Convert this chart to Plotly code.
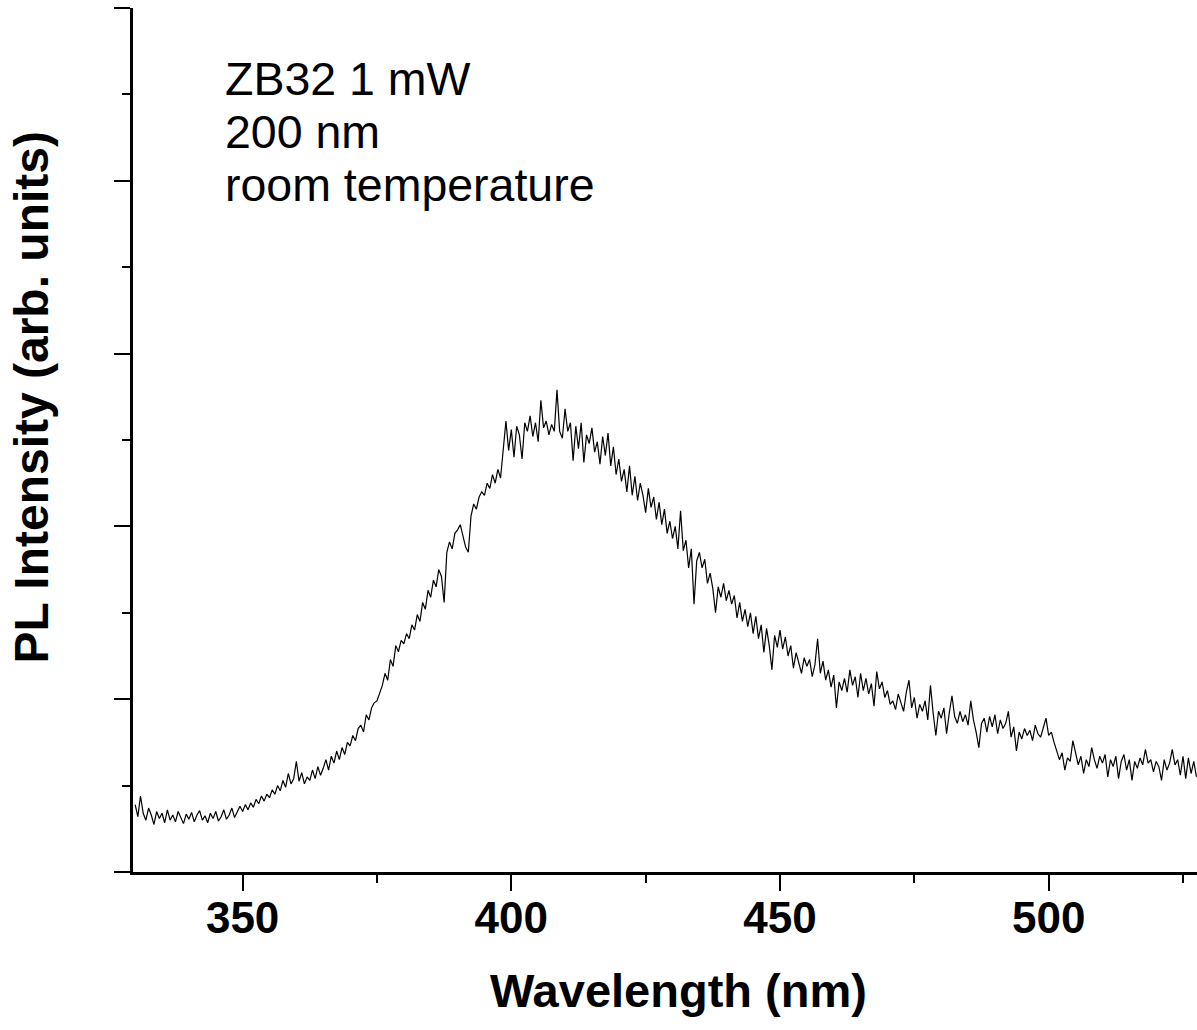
import numpy as np
import plotly.graph_objects as go

# ---------------- data ----------------
wavelength_start = 330.0   # nm, first sample
wavelength_step = 0.5      # nm, detector sampling step

intensity_330_380 = [
    0.78, 0.64, 0.88, 0.68, 0.60, 0.74, 0.66, 0.55, 0.70, 0.62,
    0.68, 0.57, 0.72, 0.60, 0.66, 0.58, 0.70, 0.63, 0.56, 0.67,
    0.61, 0.69, 0.58, 0.66, 0.71, 0.60, 0.65, 0.57, 0.68, 0.62,
    0.70, 0.59, 0.64, 0.72, 0.61, 0.66, 0.74, 0.63, 0.69, 0.76,
    0.70, 0.78, 0.72, 0.80, 0.75, 0.84, 0.79, 0.88, 0.82, 0.90,
    0.86, 0.95, 0.90, 1.00, 0.94, 1.06, 0.98, 1.14, 1.02, 1.08,
    1.28, 1.05, 1.15, 1.02, 1.10, 1.06, 1.18, 1.08, 1.22, 1.12,
    1.20, 1.30, 1.18, 1.34, 1.26, 1.40, 1.30, 1.44, 1.36, 1.50,
    1.46, 1.58, 1.52, 1.66, 1.70, 1.62, 1.82, 1.76, 1.90, 1.96,
    1.98, 2.08, 2.16, 2.30, 2.22, 2.46, 2.38, 2.62, 2.55, 2.68,
]
intensity_380_430 = [
    2.64, 2.76, 2.70, 2.86, 2.80, 2.98, 2.90, 3.12, 3.04, 3.26,
    3.18, 3.38, 3.30, 3.50, 3.42, 3.12, 3.70, 3.82, 3.74, 3.92,
    3.96, 4.02, 3.90, 3.76, 3.70, 4.12, 4.26, 4.20, 4.34, 4.40,
    4.36, 4.50, 4.44, 4.60, 4.50, 4.66, 4.56, 4.90, 5.22, 4.88,
    5.12, 4.80, 5.16, 5.06, 4.78, 5.20, 5.10, 5.28, 5.04, 5.20,
    4.98, 5.46, 5.14, 5.22, 5.06, 5.18, 5.10, 5.58, 5.10, 5.02,
    5.36, 5.10, 5.20, 4.76, 5.16, 4.90, 5.20, 4.74, 5.06, 4.96,
    5.14, 4.86, 4.98, 4.72, 5.04, 4.82, 5.08, 4.70, 4.92, 4.60,
    4.78, 4.52, 4.66, 4.40, 4.70, 4.36, 4.58, 4.30, 4.50, 4.36,
    4.16, 4.44, 4.22, 4.34, 4.08, 4.28, 4.02, 4.20, 3.92, 4.06,
]
intensity_430_480 = [
    3.86, 4.00, 3.74, 4.18, 3.72, 3.84, 3.52, 3.74, 3.10, 3.60,
    3.70, 3.52, 3.62, 3.34, 3.46, 3.28, 3.00, 3.30, 3.18, 3.34,
    3.14, 3.26, 3.10, 3.20, 2.94, 3.12, 2.90, 3.04, 2.84, 3.00,
    2.76, 2.96, 2.70, 2.86, 2.54, 2.82, 2.62, 2.34, 2.74, 2.60,
    2.80, 2.58, 2.72, 2.50, 2.62, 2.36, 2.54, 2.42, 2.30, 2.48,
    2.38, 2.46, 2.26, 2.40, 2.70, 2.30, 2.44, 2.22, 2.34, 2.14,
    2.28, 1.90, 2.20, 2.10, 2.24, 2.08, 2.34, 2.16, 2.26, 2.02,
    2.30, 2.10, 2.24, 2.06, 2.18, 1.92, 2.32, 2.12, 2.20, 2.02,
    2.10, 1.94, 1.98, 1.88, 2.06, 1.96, 1.86, 2.08, 2.22, 1.90,
    2.02, 1.78, 1.94, 1.86, 1.98, 1.76, 2.16, 1.84, 1.58, 1.86,
]
intensity_480_528 = [
    1.78, 1.90, 1.60, 1.84, 2.04, 1.80, 1.72, 1.86, 1.74, 1.82,
    1.70, 1.98, 1.76, 1.62, 1.44, 1.72, 1.78, 1.62, 1.80, 1.68,
    1.82, 1.60, 1.76, 1.66, 1.72, 1.86, 1.56, 1.68, 1.40, 1.62,
    1.54, 1.66, 1.58, 1.64, 1.52, 1.70, 1.60, 1.56, 1.66, 1.78,
    1.58, 1.62, 1.50, 1.40, 1.30, 1.38, 1.18, 1.32, 1.28, 1.52,
    1.36, 1.24, 1.34, 1.14, 1.30, 1.22, 1.44, 1.30, 1.20, 1.34,
    1.26, 1.36, 1.10, 1.30, 1.22, 1.34, 1.08, 1.28, 1.36, 1.18,
    1.30, 1.06, 1.28, 1.20, 1.32, 1.24, 1.42, 1.26, 1.30, 1.16,
    1.28, 1.22, 1.06, 1.30, 1.18, 1.26, 1.42, 1.24, 1.30, 1.12,
    1.34, 1.08, 1.32, 1.14, 1.28, 1.10,
]

intensity = intensity_330_380 + intensity_380_430 + intensity_430_480 + intensity_480_528
wavelength = wavelength_start + wavelength_step * np.arange(len(intensity))

x_tick_values = [350, 400, 450, 500]
x_tick_labels = ["350", "400", "450", "500"]
annotation_lines = ["ZB32 1 mW", "200 nm", "room temperature"]
x_title = "Wavelength (nm)"
y_title = "PL Intensity (arb. units)"

# ---------------- layout geometry (pixels) ----------------
W, H = 1197, 1030
ML, MR, MT, MB = 133, 0, 8, 158
PW = W - ML - MR
PH = H - MT - MB


def px_x(px):
    return (px - ML) / PW


def px_y(py):
    return (H - MB - py) / PH


FONT = "Liberation Sans, Arial, sans-serif"

fig = go.Figure()
fig.add_trace(go.Scatter(
    x=wavelength, y=intensity, mode="lines",
    line=dict(color="black", width=1.2),
    hoverinfo="skip", showlegend=False,
))

axis_common = dict(
    showline=True, linecolor="black", linewidth=2.6,
    ticks="outside", ticklen=16, tickwidth=2.4, tickcolor="black",
    showgrid=False, zeroline=False, mirror=False,
)

fig.update_xaxes(
    range=[329.6, 527.6],
    tickmode="array", tickvals=x_tick_values, ticktext=x_tick_labels,
    tickfont=dict(family=FONT, size=44, color="black", weight="bold"),
    minor=dict(dtick=25, tick0=0, ticks="outside", ticklen=8,
               tickwidth=2.4, tickcolor="black", showgrid=False),
    ticklabelstandoff=-11,
    **axis_common,
)
fig.update_yaxes(
    range=[0, 10], dtick=2, tick0=0, showticklabels=False,
    minor=dict(dtick=1, tick0=0, ticks="outside", ticklen=8,
               tickwidth=2.4, tickcolor="black", showgrid=False),
    **axis_common,
)

# one block of text; the base font sets the line pitch (1.3 em),
# the spans set the glyph size
LINE_PITCH = 53
GLYPH_SIZE = 46.5
block = "<br>".join(
    f"<span style='font-size:{GLYPH_SIZE}px'>{t}</span>" for t in annotation_lines
)
annotations = [dict(
    text=block, xref="paper", yref="paper", align="left",
    x=px_x(223), y=px_y(51), xanchor="left", yanchor="top",
    showarrow=False,
    font=dict(family=FONT, size=LINE_PITCH / 1.3, color="black"),
)]

annotations.append(dict(
    text=x_title, xref="paper", yref="paper",
    x=px_x(678), y=px_y(962), xanchor="center", yanchor="top",
    showarrow=False,
    font=dict(family=FONT, size=47, color="black", weight="bold"),
))
annotations.append(dict(
    text=y_title, xref="paper", yref="paper", textangle=-90,
    x=px_x(31), y=px_y(397.5), xanchor="center", yanchor="middle",
    showarrow=False,
    font=dict(family=FONT, size=48, color="black", weight="bold"),
))

fig.update_layout(
    width=W, height=H,
    margin=dict(l=ML, r=MR, t=MT, b=MB, pad=0),
    paper_bgcolor="white", plot_bgcolor="white",
    annotations=annotations,
)

fig.write_html(
    "out.html",
    config={"displayModeBar": False},
    post_script="document.body.style.margin='0px';"
                "document.body.style.overflow='hidden';",
)
